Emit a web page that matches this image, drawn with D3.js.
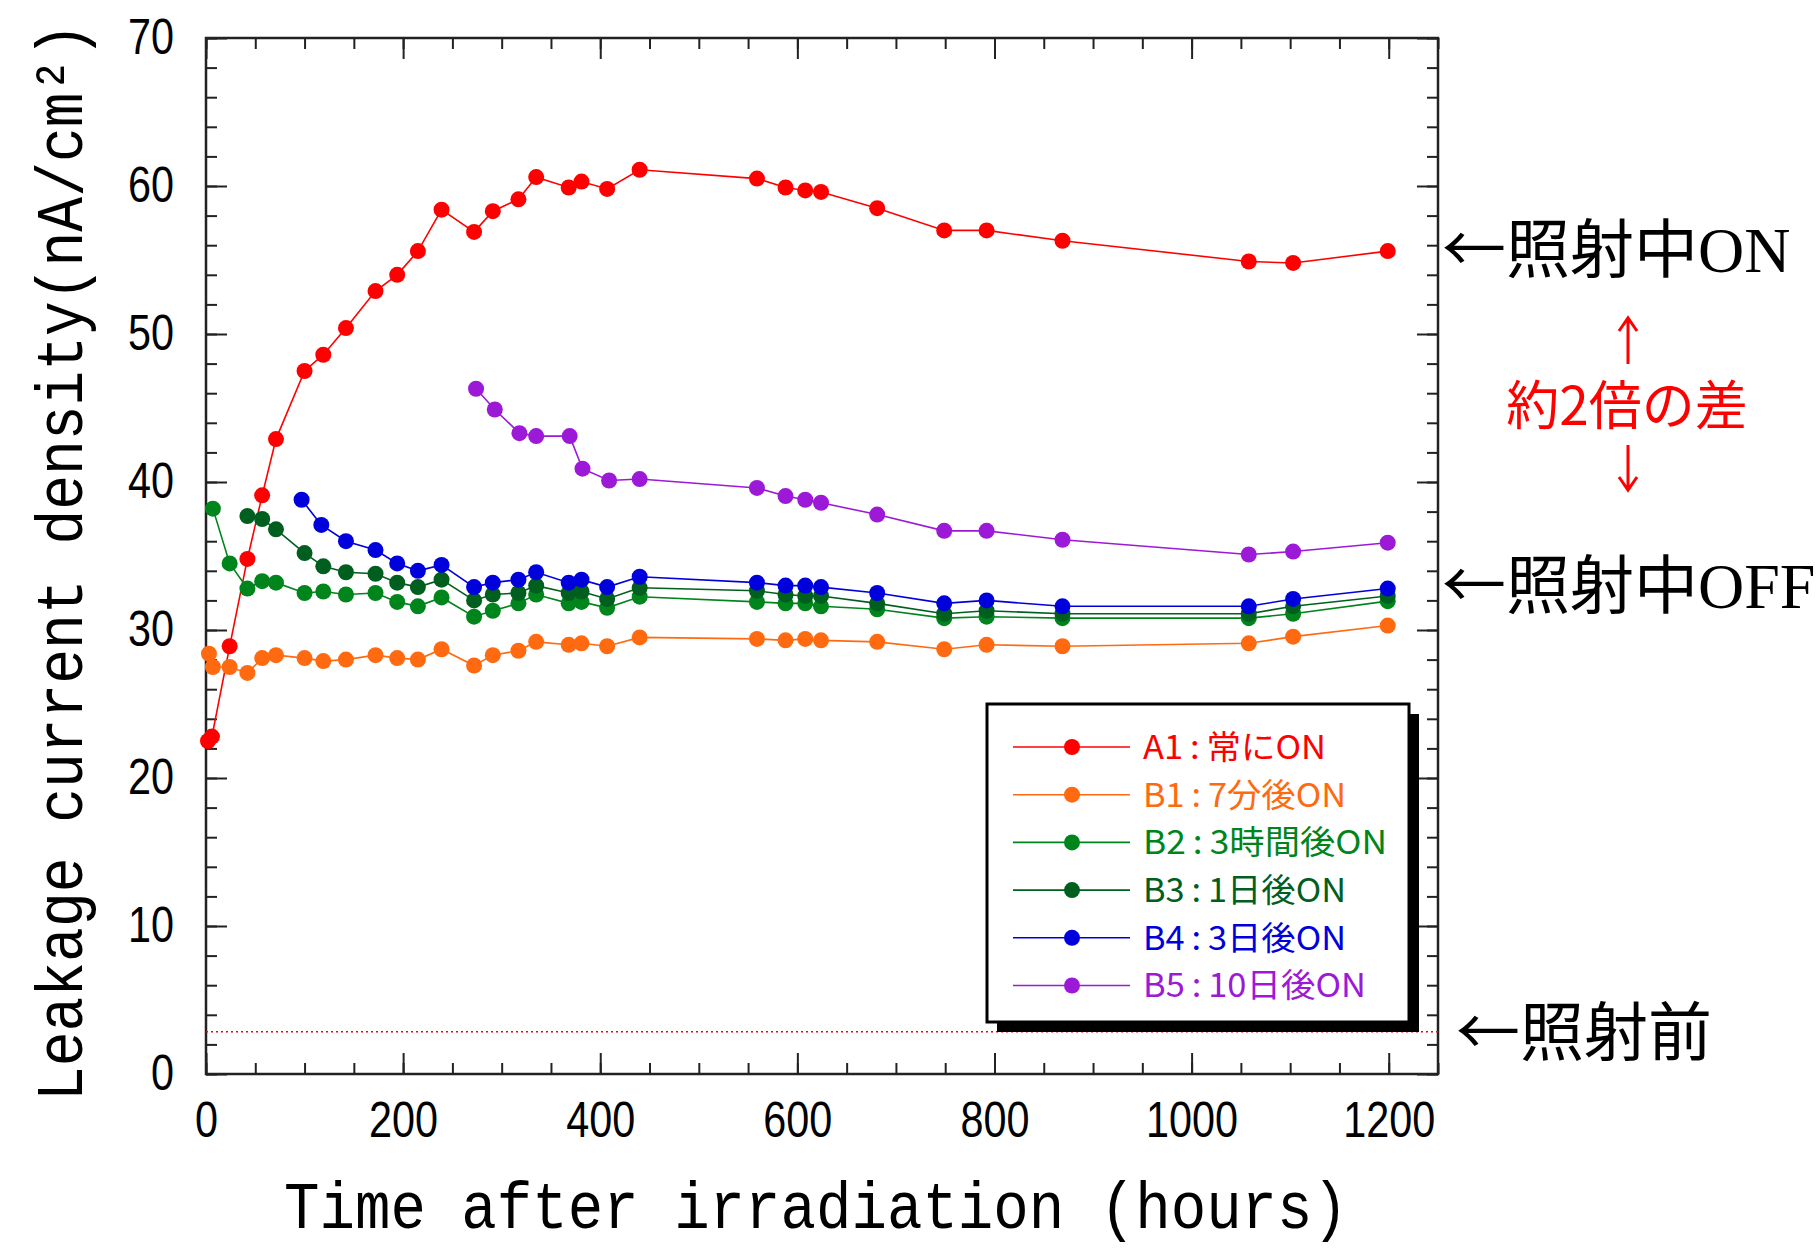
<!DOCTYPE html>
<html>
<head>
<meta charset="utf-8">
<script src="https://cdn.jsdelivr.net/npm/d3@7"></script>
<style>
  body { margin: 0; background: #fff; }
  svg { display: block; }
</style>
</head>
<body>
<div id="chart"></div>
<script>
// time after irradiation (hours) and leakage current density (nA/cm2)
const a1Time = [2, 6, 24, 42, 57, 71, 100, 119, 142, 172, 194, 215, 239, 272, 291, 317, 335, 368, 381, 407, 440, 559, 588, 608, 624, 681, 749, 792, 869, 1058, 1103, 1199];
const a1Val  = [22.5, 22.8, 28.9, 34.8, 39.1, 42.9, 47.5, 48.6, 50.4, 52.9, 54.0, 55.6, 58.4, 56.9, 58.3, 59.1, 60.6, 59.9, 60.3, 59.8, 61.1, 60.5, 59.9, 59.7, 59.6, 58.5, 57.0, 57.0, 56.3, 54.9, 54.8, 55.6];

const b1Time = [3, 7, 24, 42, 57, 71, 100, 119, 142, 172, 194, 215, 239, 272, 291, 317, 335, 368, 381, 407, 440, 559, 588, 608, 624, 681, 749, 792, 869, 1058, 1103, 1199];
const b1Val  = [28.4, 27.5, 27.5, 27.1, 28.1, 28.3, 28.1, 27.9, 28.0, 28.3, 28.1, 28.0, 28.7, 27.6, 28.3, 28.6, 29.2, 29.0, 29.1, 28.9, 29.5, 29.4, 29.3, 29.4, 29.3, 29.2, 28.7, 29.0, 28.9, 29.1, 29.55, 30.3];

const b2Time = [7, 24, 42, 57, 71, 100, 119, 142, 172, 194, 215, 239, 272, 291, 317, 335, 368, 381, 407, 440, 559, 588, 608, 624, 681, 749, 792, 869, 1058, 1103, 1199];
const b2Val  = [38.2, 34.5, 32.8, 33.3, 33.2, 32.5, 32.6, 32.4, 32.5, 31.9, 31.6, 32.2, 30.9, 31.3, 31.8, 32.4, 31.8, 31.9, 31.5, 32.25, 31.9, 31.8, 31.8, 31.6, 31.4, 30.8, 30.9, 30.8, 30.8, 31.1, 31.95];

const b3Time = [42, 57, 71, 100, 119, 142, 172, 194, 215, 239, 272, 291, 317, 335, 368, 381, 407, 440, 559, 588, 608, 624, 681, 749, 792, 869, 1058, 1103, 1199];
const b3Val  = [37.7, 37.5, 36.8, 35.2, 34.3, 33.9, 33.8, 33.2, 32.9, 33.4, 32.0, 32.4, 32.5, 33.0, 32.5, 32.6, 32.1, 32.85, 32.65, 32.4, 32.3, 32.3, 31.8, 31.1, 31.3, 31.1, 31.1, 31.6, 32.3];

const b4Time = [97, 117, 142, 172, 194, 215, 239, 272, 291, 317, 335, 368, 381, 407, 440, 559, 588, 608, 624, 681, 749, 792, 869, 1058, 1103, 1199];
const b4Val  = [38.8, 37.1, 36.0, 35.4, 34.5, 34.0, 34.4, 32.9, 33.2, 33.4, 33.9, 33.2, 33.4, 32.9, 33.6, 33.2, 33.0, 33.0, 32.9, 32.5, 31.8, 32.0, 31.6, 31.6, 32.1, 32.8];

const b5Time = [274, 293, 318, 335, 369, 382, 409, 440, 559, 588, 608, 624, 681, 749, 792, 869, 1058, 1103, 1199];
const b5Val  = [46.3, 44.9, 43.3, 43.1, 43.1, 40.9, 40.1, 40.2, 39.6, 39.05, 38.8, 38.6, 37.8, 36.7, 36.7, 36.1, 35.1, 35.3, 35.9];

const beforeLevel = 2.85;

const seriesNames = ["A1\u2009:\u2009常にON", "B1\u2009:\u20097分後ON", "B2\u2009:\u20093時間後ON", "B3\u2009:\u20091日後ON", "B4\u2009:\u20093日後ON", "B5\u2009:\u200910日後ON"];
const xTicks = [0, 200, 400, 600, 800, 1000, 1200];
const yTicks = [0, 10, 20, 30, 40, 50, 60, 70];

const width = 1818;
const height = 1249;
const margin = {top: 38, right: 380, bottom: 175, left: 206};
const colors = ["#ff0000", "#ff6a10", "#00841c", "#005e1e", "#0000dc", "#9c19d8"];
const legendWidths = [183, 203, 244, 203, 203, 223];

const series = [
    {time: a1Time, val: a1Val},
    {time: b1Time, val: b1Val},
    {time: b2Time, val: b2Val},
    {time: b3Time, val: b3Val},
    {time: b4Time, val: b4Val},
    {time: b5Time, val: b5Val}
].map((s, i) => ({
    name: seriesNames[i],
    color: colors[i],
    points: s.time.map((t, j) => ({t: t, v: s.val[j]}))
}));

const svg = d3.select("#chart")
    .append("svg")
    .attr("width", width)
    .attr("height", height);

const plotW = width - margin.left - margin.right;
const plotH = height - margin.top - margin.bottom;

const x = d3.scaleLinear().domain([0, 1250]).range([margin.left, margin.left + plotW]);
const y = d3.scaleLinear().domain([0, 70]).range([margin.top + plotH, margin.top]);

const tickFont = "'Liberation Sans', Arial, sans-serif";
const monoFont = "'Liberation Mono', monospace";
const jp = "'Noto Sans CJK JP', sans-serif";
const serif = "'Liberation Serif', 'Times New Roman', serif";

function styleAxis(g) {
    g.select(".domain").remove();
    g.selectAll("line").attr("stroke", "#222").attr("stroke-width", 2);
}

// minor ticks on all four sides
const xMinor = d3.range(0, 1251, 50);
const yMinor = d3.range(0, 71, 2);
svg.append("g").attr("transform", `translate(0,${y(0)})`)
    .call(d3.axisBottom(x).tickValues(xMinor).tickSize(-11).tickFormat("")).call(styleAxis);
svg.append("g").attr("transform", `translate(0,${y(70)})`)
    .call(d3.axisTop(x).tickValues(xMinor).tickSize(-11).tickFormat("")).call(styleAxis);
svg.append("g").attr("transform", `translate(${x(0)},0)`)
    .call(d3.axisLeft(y).tickValues(yMinor).tickSize(-11).tickFormat("")).call(styleAxis);
svg.append("g").attr("transform", `translate(${x(1250)},0)`)
    .call(d3.axisRight(y).tickValues(yMinor).tickSize(-11).tickFormat("")).call(styleAxis);

// major ticks
const xAxis = svg.append("g").attr("transform", `translate(0,${y(0)})`)
    .call(d3.axisBottom(x).tickValues(xTicks).tickSize(-21).tickPadding(27).tickFormat(d3.format("d")))
    .call(styleAxis);
svg.append("g").attr("transform", `translate(0,${y(70)})`)
    .call(d3.axisTop(x).tickValues(xTicks).tickSize(-21).tickFormat("")).call(styleAxis);
const yAxis = svg.append("g").attr("transform", `translate(${x(0)},0)`)
    .call(d3.axisLeft(y).tickValues(yTicks).tickSize(-21).tickPadding(32).tickFormat(d3.format("d")))
    .call(styleAxis);
svg.append("g").attr("transform", `translate(${x(1250)},0)`)
    .call(d3.axisRight(y).tickValues(yTicks).tickSize(-21).tickFormat("")).call(styleAxis);

[xAxis, yAxis].forEach(g => {
    g.selectAll("text")
        .attr("font-family", tickFont)
        .attr("font-size", 50)
        .attr("fill", "#000")
        .attr("lengthAdjust", "spacingAndGlyphs")
        .attr("textLength", d => String(d).length * 23);
});
yAxis.selectAll("text").attr("dy", "0.3em");

// frame
svg.append("rect")
    .attr("x", x(0)).attr("y", y(70))
    .attr("width", x(1250) - x(0)).attr("height", y(0) - y(70))
    .attr("fill", "none").attr("stroke", "#222").attr("stroke-width", 2.5);

// level before irradiation
svg.append("line")
    .attr("x1", x(0)).attr("x2", x(1250))
    .attr("y1", y(beforeLevel)).attr("y2", y(beforeLevel))
    .attr("stroke", "#ff0000").attr("stroke-width", 1.5)
    .attr("stroke-dasharray", "2,3");

const line = d3.line().x(d => x(d.t)).y(d => y(d.v));

const groups = svg.selectAll(".series")
    .data(series)
    .enter()
    .append("g")
    .attr("class", "series");

groups.append("path")
    .attr("d", d => line(d.points))
    .attr("fill", "none")
    .attr("stroke", d => d.color)
    .attr("stroke-width", 1.6);

groups.each(function (s) {
    d3.select(this).selectAll("circle")
        .data(s.points)
        .enter()
        .append("circle")
        .attr("cx", d => x(d.t))
        .attr("cy", d => y(d.v))
        .attr("r", 8)
        .attr("fill", s.color);
});

// legend box with drop shadow
const lg = svg.append("g").attr("transform", "translate(987,704)");
lg.append("rect").attr("x", 10).attr("y", 10).attr("width", 422).attr("height", 318).attr("fill", "#000");
lg.append("rect").attr("x", 0).attr("y", 0).attr("width", 422).attr("height", 318)
    .attr("fill", "#fff").attr("stroke", "#000").attr("stroke-width", 3);

const rows = lg.selectAll(".legend")
    .data(series)
    .enter()
    .append("g")
    .attr("class", "legend")
    .attr("transform", (d, i) => `translate(0,${43 + i * 47.7})`);

rows.append("line")
    .attr("x1", 26).attr("x2", 143)
    .attr("stroke", d => d.color).attr("stroke-width", 1.6);
rows.append("circle")
    .attr("cx", 85).attr("r", 8).attr("fill", d => d.color);
rows.append("text")
    .attr("x", 156)
    .attr("dy", "0.36em")
    .attr("font-family", jp)
    .attr("font-size", 33)
    .attr("fill", d => d.color)
    .attr("lengthAdjust", "spacingAndGlyphs")
    .attr("textLength", (d, i) => legendWidths[i])
    .attr("transform", "translate(0,0)")
    .text(d => d.name);

// axis titles
svg.append("text")
    .attr("transform", "translate(816,1228) scale(1,1.12)")
    .attr("text-anchor", "middle")
    .attr("font-family", monoFont)
    .attr("font-size", 59)
    .attr("lengthAdjust", "spacingAndGlyphs")
    .attr("textLength", 1064)
    .text("Time after irradiation (hours)");

svg.append("text")
    .attr("transform", "translate(82,562) rotate(-90) scale(1,1.14)")
    .attr("text-anchor", "middle")
    .attr("font-family", monoFont)
    .attr("font-size", 58)
    .attr("lengthAdjust", "spacingAndGlyphs")
    .attr("textLength", 1078)
    .text("Leakage current density(nA/cm²)");

// annotations on the right
function note(xPos, yPos, jpText, latin) {
    const t = svg.append("text")
        .attr("x", xPos).attr("y", yPos)
        .attr("dy", "0.36em")
        .attr("font-size", 64)
        .attr("fill", "#000");
    t.append("tspan").attr("font-family", jp).text(jpText);
    if (latin) t.append("tspan").attr("font-family", serif).text(latin);
}

note(1442, 249, "←照射中", "ON");
note(1442, 585, "←照射中", "OFF");
note(1456, 1032, "←照射前", null);

svg.append("text")
    .attr("x", 1627).attr("y", 406)
    .attr("dy", "0.36em")
    .attr("text-anchor", "middle")
    .attr("font-family", jp)
    .attr("font-size", 53)
    .attr("fill", "#ff0000")
    .text("約2倍の差");

svg.append("path")
    .attr("d", "M1628,364V318M1619,331L1628,318L1637,331")
    .attr("fill", "none").attr("stroke", "#ff0000").attr("stroke-width", 3);
svg.append("path")
    .attr("d", "M1628,445V490M1619,477L1628,490L1637,477")
    .attr("fill", "none").attr("stroke", "#ff0000").attr("stroke-width", 3);
</script>
</body>
</html>
